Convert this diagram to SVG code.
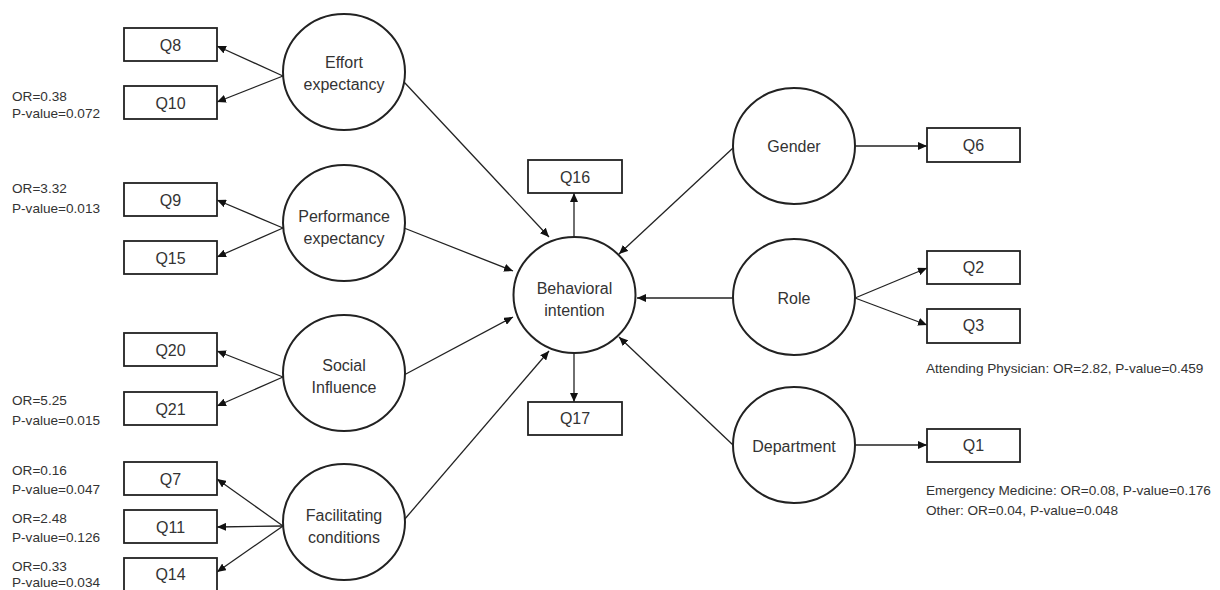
<svg xmlns="http://www.w3.org/2000/svg" width="1220" height="590" viewBox="0 0 1220 590">
<style>
.c{fill:#fff;stroke:#222;stroke-width:2}
.b{fill:#fff;stroke:#222;stroke-width:1.8}
.t{font-family:"Liberation Sans",Arial,sans-serif;font-size:16px;fill:#333;text-anchor:middle;dominant-baseline:central}
.s{font-family:"Liberation Sans",Arial,sans-serif;font-size:13.6px;fill:#333;dominant-baseline:central}
.e line{stroke:#222;stroke-width:1.3;marker-end:url(#ah)}
</style>
<defs>
<marker id="ah" markerUnits="userSpaceOnUse" markerWidth="9" markerHeight="8" refX="9" refY="4" orient="auto">
<path d="M0,0 L9,4 L0,8 z" fill="#111"/>
</marker>
</defs>
<rect width="1220" height="590" fill="#fff"/>
<g id="connectors" class="e">
<line x1="283" y1="76" x2="217" y2="46"/>
<line x1="283" y1="76" x2="217" y2="102"/>
<line x1="283" y1="228" x2="217" y2="200"/>
<line x1="283" y1="228" x2="217" y2="257"/>
<line x1="283" y1="377" x2="217" y2="351"/>
<line x1="283" y1="377" x2="217" y2="406"/>
<line x1="283" y1="526" x2="217" y2="479"/>
<line x1="283" y1="526" x2="217" y2="527"/>
<line x1="283" y1="526" x2="217" y2="572"/>
<line x1="404" y1="82" x2="549" y2="237"/>
<line x1="404" y1="228" x2="513" y2="271"/>
<line x1="404" y1="375" x2="513" y2="317"/>
<line x1="404" y1="520" x2="549" y2="351"/>
<line x1="574" y1="237" x2="574" y2="193"/>
<line x1="574" y1="353" x2="574" y2="402"/>
<line x1="733" y1="148" x2="619" y2="254"/>
<line x1="733" y1="298" x2="637" y2="298"/>
<line x1="733" y1="445" x2="619" y2="337"/>
<line x1="855" y1="146" x2="927" y2="146"/>
<line x1="855" y1="298" x2="927" y2="268"/>
<line x1="855" y1="298" x2="927" y2="325"/>
<line x1="855" y1="445" x2="927" y2="445"/>
</g>
<g id="effort"><ellipse class="c" cx="344" cy="72" rx="61" ry="58"/><text class="t" x="344" y="62">Effort</text><text class="t" x="344" y="84">expectancy</text></g>
<g id="performance"><ellipse class="c" cx="344" cy="223" rx="61" ry="58"/><text class="t" x="344" y="216">Performance</text><text class="t" x="344" y="238">expectancy</text></g>
<g id="social"><ellipse class="c" cx="344" cy="373" rx="61" ry="58"/><text class="t" x="344" y="365">Social</text><text class="t" x="344" y="387">Influence</text></g>
<g id="facilitating"><ellipse class="c" cx="344" cy="522" rx="61" ry="58"/><text class="t" x="344" y="515">Facilitating</text><text class="t" x="344" y="537">conditions</text></g>
<g id="behavioral"><ellipse class="c" cx="574.5" cy="295" rx="61" ry="58"/><text class="t" x="574.5" y="288">Behavioral</text><text class="t" x="574.5" y="310">intention</text></g>
<g id="gender"><ellipse class="c" cx="794" cy="146" rx="61" ry="58"/><text class="t" x="794" y="146">Gender</text></g>
<g id="role"><ellipse class="c" cx="794" cy="297" rx="61" ry="58"/><text class="t" x="794" y="298">Role</text></g>
<g id="department"><ellipse class="c" cx="794" cy="445" rx="61" ry="58"/><text class="t" x="794" y="446">Department</text></g>
<g id="q8"><rect class="b" x="124" y="28" width="93" height="33"/><text class="t" x="170.5" y="45">Q8</text></g>
<g id="q10"><rect class="b" x="124" y="86" width="93" height="33"/><text class="t" x="170.5" y="103">Q10</text></g>
<g id="q9"><rect class="b" x="124" y="183" width="93" height="33"/><text class="t" x="170.5" y="200">Q9</text></g>
<g id="q15"><rect class="b" x="124" y="241" width="93" height="33"/><text class="t" x="170.5" y="258">Q15</text></g>
<g id="q20"><rect class="b" x="124" y="333" width="93" height="33"/><text class="t" x="170.5" y="350">Q20</text></g>
<g id="q21"><rect class="b" x="124" y="392" width="93" height="33"/><text class="t" x="170.5" y="409">Q21</text></g>
<g id="q7"><rect class="b" x="124" y="462" width="93" height="33"/><text class="t" x="170.5" y="479">Q7</text></g>
<g id="q11"><rect class="b" x="124" y="510" width="93" height="33"/><text class="t" x="170.5" y="527">Q11</text></g>
<g id="q14"><rect class="b" x="124" y="558" width="93" height="33"/><text class="t" x="170.5" y="574">Q14</text></g>
<g id="q16"><rect class="b" x="528" y="160" width="94" height="33"/><text class="t" x="575" y="177">Q16</text></g>
<g id="q17"><rect class="b" x="528" y="402" width="94" height="33"/><text class="t" x="575" y="418">Q17</text></g>
<g id="q6"><rect class="b" x="927" y="128" width="93" height="34"/><text class="t" x="973.5" y="145">Q6</text></g>
<g id="q2"><rect class="b" x="927" y="251" width="93" height="33"/><text class="t" x="973.5" y="267">Q2</text></g>
<g id="q3"><rect class="b" x="927" y="309" width="93" height="34"/><text class="t" x="973.5" y="325">Q3</text></g>
<g id="q1"><rect class="b" x="927" y="429" width="93" height="33"/><text class="t" x="973.5" y="445">Q1</text></g>
<g id="stats">
<text class="s" x="12" y="96">OR=0.38</text><text class="s" x="12" y="113">P-value=0.072</text>
<text class="s" x="12" y="188">OR=3.32</text><text class="s" x="12" y="208">P-value=0.013</text>
<text class="s" x="12" y="400">OR=5.25</text><text class="s" x="12" y="420">P-value=0.015</text>
<text class="s" x="12" y="470">OR=0.16</text><text class="s" x="12" y="489">P-value=0.047</text>
<text class="s" x="12" y="518">OR=2.48</text><text class="s" x="12" y="537">P-value=0.126</text>
<text class="s" x="12" y="566">OR=0.33</text><text class="s" x="12" y="582">P-value=0.034</text>
<text class="s" x="926" y="368">Attending Physician: OR=2.82, P-value=0.459</text>
<text class="s" x="926" y="490">Emergency Medicine: OR=0.08, P-value=0.176</text>
<text class="s" x="926" y="510">Other: OR=0.04, P-value=0.048</text>
</g>
</svg>
